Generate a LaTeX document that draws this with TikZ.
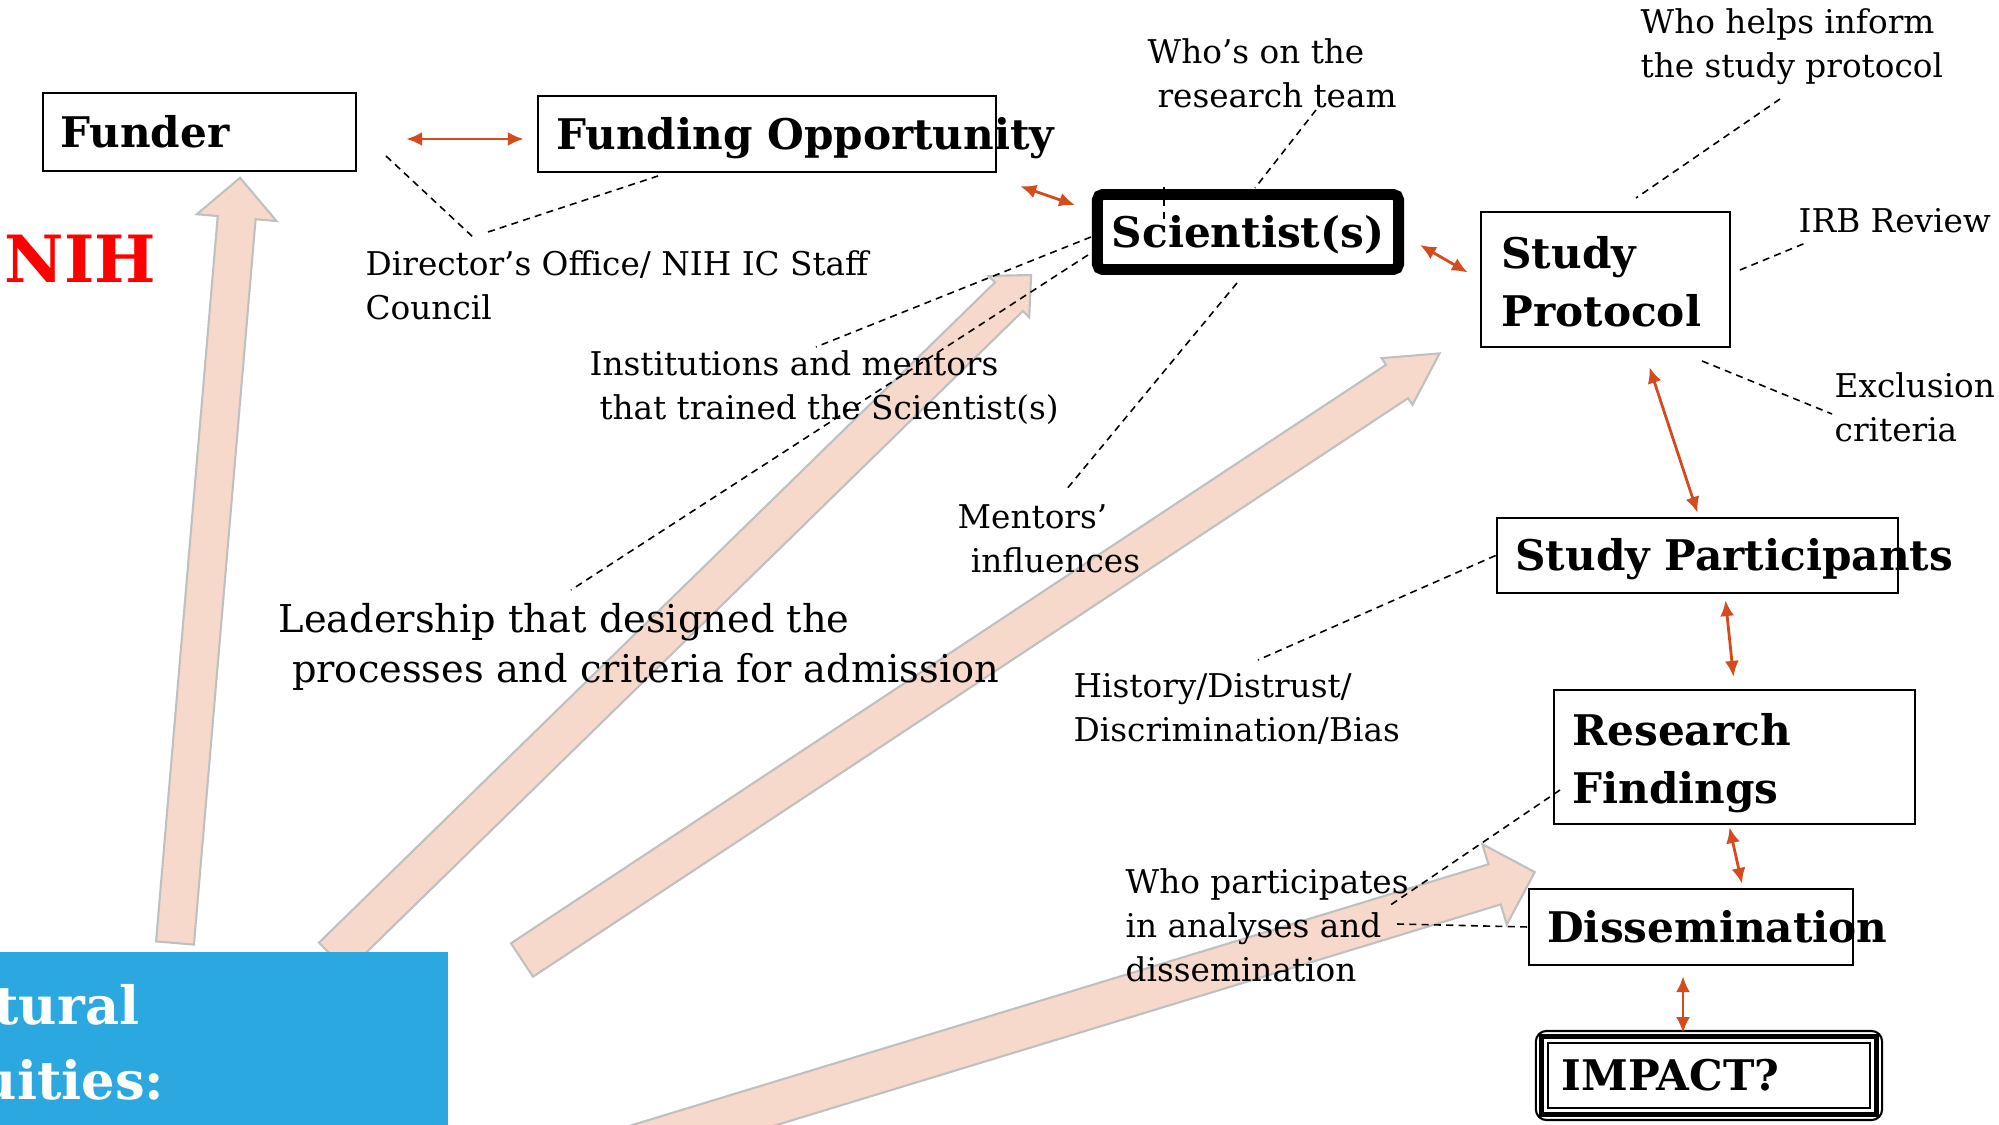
\documentclass[tikz,border=0pt]{standalone}
\usepackage{fontspec}
\setmainfont{DejaVu Serif}
\usetikzlibrary{arrows.meta,calc}

\definecolor{nihred}{RGB}{255,0,0}
\definecolor{linkorange}{RGB}{212,76,30}
\definecolor{arrowpink}{RGB}{247,217,204}
\definecolor{arrowedge}{RGB}{192,192,192}
\definecolor{bandblue}{RGB}{44,168,224}

% broad arrow: start x, start y, angle, length, half shaft, half head, head length
\newcommand{\pinkarrow}[7]{%
  \begin{scope}[shift={(#1,#2)}, x=0.01cm, y=0.01cm, rotate=#3]
    \filldraw[draw=arrowedge, fill=arrowpink, line width=0.6pt, line join=miter]
      (0,-#5) -- ({#4-#7},-#5) -- ({#4-#7},-#6) -- (#4,0) -- ({#4-#7},#6) -- ({#4-#7},#5) -- (0,#5) -- cycle;
  \end{scope}}

\begin{document}
\begin{tikzpicture}[x=0.01cm, y=-0.01cm,
    box/.style={draw, line width=0.7pt, inner sep=0pt},
    boxtext/.style={font=\fontsize{12}{16.5}\selectfont\bfseries, inner sep=0pt, align=left, anchor=west},
    oneline/.style={text height=0.86em, text depth=0pt},
    note/.style={font=\fontsize{9.3}{12.6}\selectfont, inner sep=0pt, align=left, anchor=base west},
    lead/.style={dash pattern=on 2pt off 1.5pt, line width=0.45pt},
    link/.style={draw=linkorange, line width=0.8pt, {Latex[length=4.5pt,width=4pt]}-{Latex[length=4.5pt,width=4pt]}}]
  \useasboundingbox (0,0) rectangle (1999,1125);

  % Big pink arrows out of the blue box
  \pinkarrow{175}{943}{85.14}{768}{19}{40}{40}
  \pinkarrow{333}{957}{44.33}{976}{20}{29}{31}
  \pinkarrow{522}{960}{33.47}{1100}{20}{28}{51}
  \pinkarrow{560}{1169}{16.94}{1019}{21}{42}{42}

  % Blue box, cut at the left edge
  \begin{scope}
    \clip (0,952) rectangle (448,1125);
    \fill[bandblue] (0,952) rectangle (448,1125);
    \node[font=\fontsize{15}{21}\selectfont\bfseries, text=white, inner sep=0pt, anchor=base east] (struct-a) at (140,1025) {Structural};
    \node[font=\fontsize{15}{21}\selectfont\bfseries, text=white, inner sep=0pt, anchor=base east] (struct-b) at (165,1100) {Inequities:};
  \end{scope}

  \node[font=\fontsize{18.5}{22}\selectfont\bfseries, text=nihred, inner sep=0pt, anchor=base west] (nih) at (4,283) {NIH};

  % Boxes
  \node[box, minimum width=3.13cm, minimum height=0.78cm] (funder) at (199.5,132) {};
  \node[boxtext, oneline] (funder-t) at ($(funder.west)+(18,0)$) {Funder};
  \node[box, minimum width=4.58cm, minimum height=0.76cm] (fo) at (767,134) {};
  \node[boxtext, oneline] (fo-t) at ($(fo.west)+(19,0)$) {Funding Opportunity};
  \node[box, oneline, line width=3.1pt, rounded corners=1.5pt, minimum width=3.01cm, minimum height=0.75cm,
        font=\fontsize{12}{16.5}\selectfont\bfseries] (sci) at (1248,232) {Scientist(s)};
  \node[box, minimum width=2.49cm, minimum height=1.35cm] (prot) at (1605.5,279.5) {};
  \node[boxtext] (prot-t) at ($(prot.west)+(21,2)$) {Study\\Protocol};
  \node[box, minimum width=4.01cm, minimum height=0.75cm] (part) at (1697.5,555.5) {};
  \node[boxtext, oneline] (part-t) at ($(part.west)+(19,0)$) {Study Participants};
  \node[box, minimum width=3.61cm, minimum height=1.34cm] (find) at (1734.5,757) {};
  \node[boxtext] (find-t) at ($(find.west)+(19,6)$) {Research\\Findings};
  \node[box, minimum width=3.24cm, minimum height=0.76cm] (diss) at (1691,927) {};
  \node[boxtext, oneline] (diss-t) at ($(diss.west)+(19,0)$) {Dissemination};
  \node[box, line width=0.6pt, rounded corners=3pt, minimum width=3.46cm, minimum height=0.89cm] (impact) at (1709,1075.5) {};
  \draw[line width=1.4pt] ($(impact.north west)+(7,7)$) rectangle ($(impact.south east)+(-7,-7)$);
  \draw[line width=0.6pt] ($(impact.north west)+(13,13)$) rectangle ($(impact.south east)+(-13,-13)$);
  \node[boxtext, oneline] (impact-t) at ($(impact.west)+(26,0)$) {IMPACT?};

  % Labels (placed at the baseline of their last line)
  \node[note] (dir) at (365,320) {Director’s Office/ NIH IC Staff\\Council};
  \node[note] (team) at (1147,108) {Who’s on the\\\hspace*{0.3em}research team};
  \node[note] (helps) at (1640,78) {Who helps inform\\the study protocol};
  \node[note] (irb) at (1798,233) {IRB Review};
  \node[note] (excl) at (1834,442) {Exclusion\\criteria};
  \node[note] (inst) at (589,420) {Institutions and mentors\\\hspace*{0.3em}that trained the Scientist(s)};
  \node[note] (ment) at (957,573) {Mentors’\\\hspace*{0.4em}influences};
  \node[note, font=\fontsize{10.9}{14.5}\selectfont] (leader) at (278,683) {Leadership that designed the\\\hspace*{0.35em}processes and criteria for admission};
  \node[note] (hist) at (1073,742) {History/Distrust/\\Discrimination/Bias};
  \node[note] (whopart) at (1125,982) {Who participates\\in analyses and\\dissemination};

  % Free ends of the dashed leaders
  \coordinate (funder-lead) at (386,156);
  \coordinate (dir-lead-a) at (474,238);
  \coordinate (dir-lead-b) at (488,232);
  \coordinate (fo-lead) at (658,176);
  \coordinate (team-lead) at (1316,110);
  \coordinate (sci-lead-top) at (1255,188);
  \coordinate (tick-a) at (1164,187);
  \coordinate (tick-b) at (1164,223);
  \coordinate (sci-lead-a) at (1091,237);
  \coordinate (inst-lead) at (816,347);
  \coordinate (sci-lead-b) at (1088,255);
  \coordinate (leader-lead) at (571,590);
  \coordinate (sci-lead-c) at (1237,283);
  \coordinate (ment-lead) at (1066,490);
  \coordinate (helps-lead) at (1780,99);
  \coordinate (prot-lead-a) at (1636,198);
  \coordinate (prot-lead-b) at (1740,270);
  \coordinate (irb-lead) at (1808,242);
  \coordinate (prot-lead-c) at (1702,361);
  \coordinate (excl-lead) at (1832,414);
  \coordinate (hist-lead) at (1258,660);
  \coordinate (find-lead) at (1560,790);
  \coordinate (whopart-lead-a) at (1389,906);
  \coordinate (whopart-lead-b) at (1397,924);

  % Dashed leaders
  \draw[lead] (funder-lead) -- (dir-lead-a);
  \draw[lead] (dir-lead-b) -- (fo-lead);
  \draw[lead] (team-lead) -- (sci-lead-top);
  \draw[lead] (tick-a) -- (tick-b);
  \draw[lead] (sci-lead-a) -- (inst-lead);
  \draw[lead] (sci-lead-b) -- (leader-lead);
  \draw[lead] (sci-lead-c) -- (ment-lead);
  \draw[lead] (helps-lead) -- (prot-lead-a);
  \draw[lead] (prot-lead-b) -- (irb-lead);
  \draw[lead] (prot-lead-c) -- (excl-lead);
  \draw[lead] (part.west) -- (hist-lead);
  \draw[lead] (find-lead) -- (whopart-lead-a);
  \draw[lead] (whopart-lead-b) -- (diss.west);

  % Orange two-way links
  \draw[link] ($(funder.east)+(49,7)$) -- ($(fo.west)+(-13,5)$);
  \draw[link] ($(fo.south east)+(23,13)$) -- ($(sci.north west)+(-17,16)$);
  \draw[link] ($(sci.east)+(16,13)$) -- ($(prot.west)+(-12,-7)$);
  \draw[link] ($(prot.south)+(44,19)$) -- ($(part.north)+(0,-4)$);
  \draw[link] ($(part.south)+(28,6)$) -- ($(find.north)+(-1,-12)$);
  \draw[link] ($(find.south)+(-5,2)$) -- ($(diss.north)+(51,-4)$);
  \draw[link] ($(diss.south)+(-8,10)$) -- ($(impact.north)+(-26,3)$);
\end{tikzpicture}
\end{document}
